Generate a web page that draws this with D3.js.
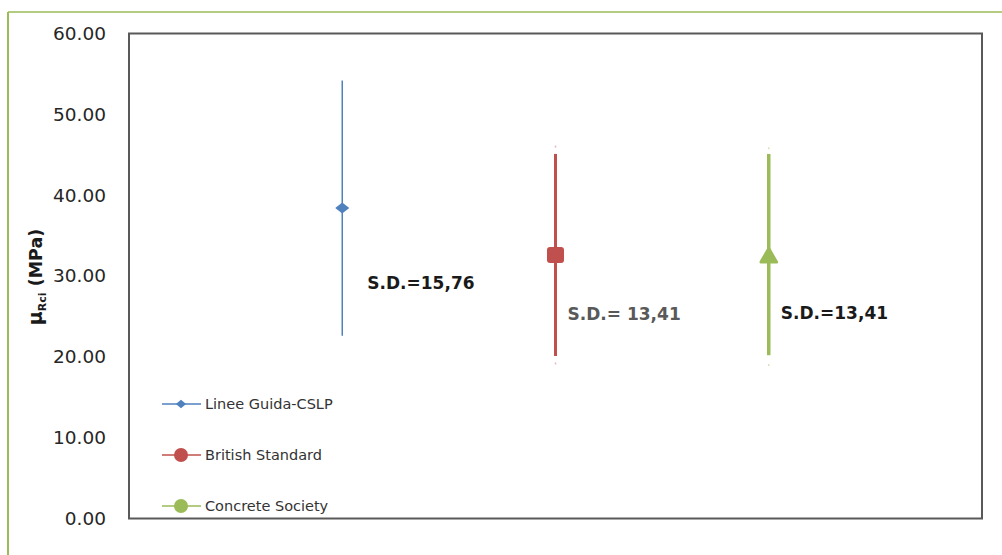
<!DOCTYPE html>
<html><head><meta charset="utf-8">
<script src="https://cdn.jsdelivr.net/npm/d3@7"></script>
<style>body{margin:0;background:#fff;}svg{display:block;}</style>
</head><body>
<svg id="chart" width="1002" height="555"></svg>
<script>
const categories = ["Linee Guida-CSLP", "British Standard", "Concrete Society"];
const means = [38.4, 32.6, 32.4];
const sdValues = [15.76, 13.41, 13.41];
const rangeLow = [22.6, 20.1, 20.2];
const rangeHigh = [54.2, 45.1, 45.1];
const sdLabels = ["S.D.=15,76", "S.D.= 13,41", "S.D.=13,41"];
const sdLabelAt = [29.2, 25.3, 25.4];
const yTicks = [0, 10, 20, 30, 40, 50, 60];

const colors = ["#4F81BD", "#C0504D", "#9BBB59"];
const labelColors = ["#1a1a1a", "#595959", "#1a1a1a"];
const lineWidths = [1.5, 3, 3.5];

const svg = d3.select("#chart");
const L = 129, R = 982, T = 33.5, B = 518.5;

// outer green frame (left + top)
svg.append("line").attr("x1", 8).attr("x2", 8).attr("y1", 12).attr("y2", 555)
  .attr("stroke", "#9BBB59").attr("stroke-width", 2);
svg.append("line").attr("x1", 8).attr("x2", 1002).attr("y1", 12).attr("y2", 12)
  .attr("stroke", "#9BBB59").attr("stroke-width", 1.5);

const x = d3.scaleLinear().domain([0, 4]).range([L, R]);
const y = d3.scaleLinear().domain([0, 60]).range([B, T]);

// plot border
svg.append("rect").attr("x", L).attr("y", T).attr("width", R - L).attr("height", B - T)
  .attr("fill", "none").attr("stroke", "#595959").attr("stroke-width", 2);

// y axis labels
const yAxis = d3.axisLeft(y).tickValues(yTicks).tickFormat(d3.format(".2f")).tickSize(0).tickPadding(0);
const gy = svg.append("g").attr("transform", `translate(106,0)`).call(yAxis);
gy.select(".domain").remove();
gy.selectAll("text").attr("font-family", "DejaVu Sans").attr("font-size", "18.5px").attr("fill", "#262626");

// y axis title
const title = svg.append("text").attr("transform", "translate(42,277) rotate(-90)")
  .attr("text-anchor", "middle").attr("font-family", "DejaVu Sans").attr("font-weight", "bold")
  .attr("font-size", "17.5px").attr("fill", "#1a1a1a");
title.append("tspan").attr("font-size", "19px").text("μ");
title.append("tspan").attr("font-size", "11px").attr("dy", 4).text("Rci");
title.append("tspan").attr("dy", -4).text(" (MPa)");

// series
categories.forEach((c, i) => {
  const cx = x(i + 1);
  const g = svg.append("g");
  // thin error bar caps
  if (i > 0) {
    [means[i] - sdValues[i], means[i] + sdValues[i]].forEach(v => {
      g.append("line").attr("x1", cx).attr("x2", cx).attr("y1", y(v) - 1).attr("y2", y(v) + 1)
        .attr("stroke", colors[i]).attr("stroke-opacity", 0.4).attr("stroke-width", 1.5);
    });
  }
  g.append("line").attr("x1", cx).attr("x2", cx).attr("y1", y(rangeLow[i])).attr("y2", y(rangeHigh[i]))
    .attr("stroke", colors[i]).attr("stroke-width", lineWidths[i]);
  const cy = y(means[i]);
  if (i === 0) {
    g.append("path").attr("d", d3.symbol(d3.symbolDiamond2, 95)())
      .attr("transform", `translate(${cx},${cy}) scale(1.15,0.9)`).attr("fill", colors[i]);
  } else if (i === 1) {
    g.append("rect").attr("x", cx - 8.5).attr("y", cy - 8).attr("width", 17).attr("height", 16)
      .attr("rx", 3).attr("fill", colors[i]);
  } else {
    g.append("path").attr("d", d3.symbol(d3.symbolTriangle, 105)())
      .attr("transform", `translate(${cx},${cy + 1})`).attr("fill", colors[i])
      .attr("stroke", colors[i]).attr("stroke-width", 3).attr("stroke-linejoin", "round");
  }
  svg.append("text").attr("x", cx + (i === 0 ? 25 : 12)).attr("y", y(sdLabelAt[i]))
    .attr("dy", "0.36em").attr("font-family", "DejaVu Sans").attr("font-weight", "bold")
    .attr("font-size", "17px").attr("fill", labelColors[i]).text(sdLabels[i]);
});

// legend
const legY = [404, 455, 506];
categories.forEach((c, i) => {
  const g = svg.append("g").attr("transform", `translate(0,${legY[i]})`);
  g.append("line").attr("x1", 162).attr("x2", 201).attr("y1", 0).attr("y2", 0)
    .attr("stroke", colors[i]).attr("stroke-width", 1.5);
  if (i === 0) {
    g.append("path").attr("d", d3.symbol(d3.symbolDiamond2, 55)()).attr("transform", "translate(181,0) scale(1.1,0.9)")
      .attr("fill", colors[i]);
  } else {
    g.append("circle").attr("cx", 181).attr("cy", 0).attr("r", 7).attr("fill", colors[i]);
  }
  g.append("text").attr("x", 205).attr("y", 0).attr("dy", "0.35em")
    .attr("font-family", "DejaVu Sans").attr("font-size", "14.5px").attr("fill", "#333").text(c);
});
</script>
</body></html>
